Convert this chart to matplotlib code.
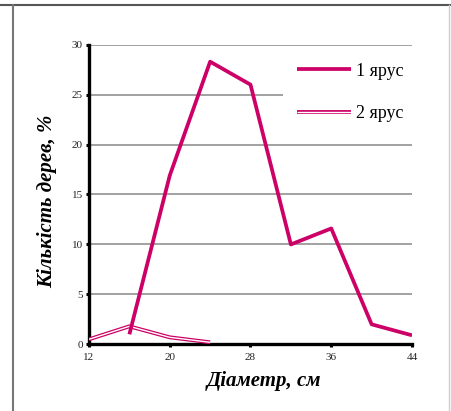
import matplotlib
matplotlib.use("Agg")
import matplotlib.pyplot as plt
from matplotlib.lines import Line2D

# Data
diam_1 = [16, 20, 24, 28, 32, 36, 40, 44]
share_1 = [1.0, 16.9, 28.3, 26.0, 10.0, 11.6, 2.0, 0.9]
diam_2 = [12, 16, 20, 24]
share_2 = [0.5, 1.8, 0.7, 0.2]
series_names = ["1 ярус", "2 ярус"]
x_ticks = [12, 20, 28, 36, 44]
y_ticks = [0, 5, 10, 15, 20, 25, 30]
x_label = "Діаметр, см"
y_label = "Кількість дерев, %"

color = "#CC0066"
plt.rcParams['font.family'] = ['Liberation Serif', 'DejaVu Serif']

W, H = 452, 411
fig = plt.figure(figsize=(W / 100, H / 100), dpi=100)
ax = fig.add_axes([89 / W, 1 - 344.3 / H, (412 - 89) / W, (344.3 - 44.7) / H])

# series 2: double line (outline with white core)
ax.plot(diam_2, share_2, color=color, lw=2.8, solid_capstyle='butt', zorder=3)
ax.plot(diam_2, share_2, color='white', lw=1.0, solid_capstyle='butt', zorder=3.1)
# series 1
ax.plot(diam_1, share_1, color=color, lw=2.7, solid_capstyle='butt', zorder=4)

ax.set_xlim(12, 44)
ax.set_ylim(0, 30)
ax.set_xticks(x_ticks)
ax.set_yticks(y_ticks)
ax.yaxis.grid(True, color='#888888', lw=1.1)
ax.set_axisbelow(True)
for s in ['top', 'right']:
    ax.spines[s].set_visible(False)
for s in ['left', 'bottom']:
    ax.spines[s].set_linewidth(2.4)
    ax.spines[s].set_color('black')
    ax.spines[s].set_capstyle('projecting')
ax.tick_params(axis='both', direction='out', length=2.5, width=2.2, color='black',
               labelsize=8, labelcolor='#222222')
ax.tick_params(axis='y', pad=2)
ax.tick_params(axis='x', pad=4)

# legend
h1 = Line2D([], [], color=color, lw=2.7, solid_capstyle='butt')
h2 = Line2D([], [], color=color, lw=2.8, solid_capstyle='butt')
h2w = Line2D([], [], color='white', lw=1.0, solid_capstyle='butt')
leg = ax.legend([h1, (h2, h2w)], series_names, loc='center left',
                bbox_to_anchor=(283 / W, 1 - 92.5 / H), bbox_transform=fig.transFigure,
                fontsize=13, frameon=True, fancybox=False, framealpha=1,
                facecolor='white', edgecolor='none', borderpad=0.8,
                handlelength=2.95, handletextpad=0.3, labelspacing=1.42,
                borderaxespad=0)
leg.set_zorder(5)

# axis labels
fig.text(263.5 / W, 1 - 381 / H, x_label, ha='center', va='center',
         fontsize=15, fontweight='bold', fontstyle='italic')
fig.text(47 / W, 1 - 201 / H, y_label, ha='center', va='center', rotation=90,
         fontsize=15, fontweight='bold', fontstyle='italic')

# frame lines
fig.add_artist(Line2D([0, 1], [1 - 5.5 / H, 1 - 5.5 / H], color='#555555', lw=1.5,
                      transform=fig.transFigure))
fig.add_artist(Line2D([13.5 / W, 13.5 / W], [0, 1 - 5.5 / H], color='#777777', lw=1.5,
                      transform=fig.transFigure))
fig.add_artist(Line2D([449.5 / W, 449.5 / W], [0, 1 - 5.5 / H], color='#cccccc', lw=1.0,
                      transform=fig.transFigure))

fig.savefig("out.png", dpi=100)
